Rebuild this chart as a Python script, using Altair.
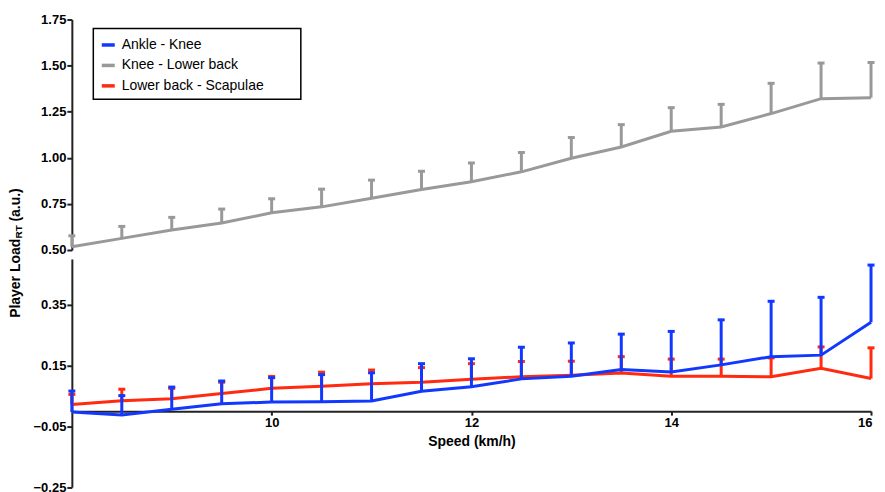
import altair as alt
import pandas as pd

speeds = [8, 8.5, 9, 9.5, 10, 10.5, 11, 11.5, 12, 12.5, 13, 13.5, 14, 14.5, 15, 15.5, 16]
series_names = ["Ankle - Knee", "Knee - Lower back", "Lower back - Scapulae"]
series_colors = ["#1238ff", "#999999", "#ff2a10"]

ankle_knee_mean = [-0.003, -0.013, 0.006, 0.024, 0.030, 0.031, 0.033, 0.065, 0.080,
                   0.106, 0.115, 0.137, 0.129, 0.152, 0.179, 0.184, 0.292]
ankle_knee_sd = [0.069, 0.064, 0.073, 0.075, 0.080, 0.089, 0.093, 0.091, 0.092,
                 0.104, 0.109, 0.116, 0.133, 0.148, 0.182, 0.190, 0.188]

knee_lowback_mean = [0.518, 0.563, 0.608, 0.646, 0.702, 0.734, 0.781, 0.828, 0.870,
                     0.924, 0.998, 1.059, 1.144, 1.167, 1.240, 1.321, 1.326]
knee_lowback_sd = [0.059, 0.065, 0.069, 0.076, 0.076, 0.096, 0.098, 0.099, 0.102,
                   0.105, 0.112, 0.121, 0.128, 0.123, 0.164, 0.193, 0.191]

lowback_scap_mean = [0.022, 0.034, 0.041, 0.058, 0.075, 0.082, 0.090, 0.095, 0.105,
                     0.113, 0.118, 0.125, 0.115, 0.115, 0.113, 0.141, 0.107]
lowback_scap_sd = [0.033, 0.038, 0.034, 0.037, 0.039, 0.046, 0.045, 0.048, 0.051,
                   0.050, 0.046, 0.054, 0.056, 0.056, 0.062, 0.070, 0.101]

top_ticks = [0.5, 0.75, 1.0, 1.25, 1.5, 1.75]
bottom_ticks = [-0.25, -0.05, 0.15, 0.35]
x_ticks = [10, 12, 14, 16]

FONT = "Liberation Sans"


def make_df(name, means, sds):
    return pd.DataFrame({
        "speed": speeds,
        "series": name,
        "mean": means,
        "upper": [m + s for m, s in zip(means, sds)],
    })


df_blue = make_df(series_names[0], ankle_knee_mean, ankle_knee_sd)
df_gray = make_df(series_names[1], knee_lowback_mean, knee_lowback_sd)
df_red = make_df(series_names[2], lowback_scap_mean, lowback_scap_sd)

color_scale = alt.Scale(domain=series_names, range=series_colors)
x_scale = alt.Scale(domain=[8, 16], nice=False, zero=False)
top_y_scale = alt.Scale(domain=[0.5, 1.75], nice=False, zero=False)
bot_y_scale = alt.Scale(domain=[-0.25, 0.5], nice=False, zero=False)

W = 801


def series_layers(df, yscale, yaxis, xaxis, legend):
    base = alt.Chart(df)
    x = alt.X("speed:Q", scale=x_scale, axis=xaxis)
    color = alt.Color("series:N", scale=color_scale, legend=legend)
    rule = base.mark_rule(strokeWidth=3).encode(
        x=x, y=alt.Y("mean:Q", scale=yscale, axis=yaxis), y2="upper:Q", color=color)
    cap = base.mark_tick(orient="horizontal", size=7, thickness=3, opacity=1).encode(
        x=x, y=alt.Y("upper:Q", scale=yscale, axis=yaxis), color=color)
    line = base.mark_line(strokeWidth=3).encode(
        x=x, y=alt.Y("mean:Q", scale=yscale, axis=yaxis), color=color)
    return [rule, cap, line]


top_axis = alt.Axis(values=top_ticks, format=".2f", title=None)
bot_axis = alt.Axis(values=bottom_ticks, format=".2f", title=None)

legend = alt.Legend(
    orient="none", legendX=28, legendY=17, title=None, padding=0,
    symbolType="stroke", symbolSize=169, symbolStrokeWidth=3.5,
    labelFontSize=14, labelFont=FONT, labelColor="black", labelOffset=5,
    rowPadding=4.5, labelLimit=400,
)

frame = alt.Chart(pd.DataFrame({"k": [0]})).mark_rect(
    fill=None, stroke="black", strokeWidth=1.5
).encode(x=alt.value(21.5), x2=alt.value(229.5), y=alt.value(9), y2=alt.value(80))

top = alt.layer(
    *series_layers(df_gray, top_y_scale, top_axis, None, legend), frame
).properties(width=W, height=231)

x_axis = alt.Axis(values=x_ticks, title="Speed (km/h)", offset=-76.25,
                  tickSize=4, labelPadding=1, titlePadding=5, format="d",
                  labelFlush=True, labelFlushOffset=1)

ttl1 = alt.Chart(pd.DataFrame({"t": ["Player Load"]})).mark_text(
    angle=270, align="left", baseline="middle", fontSize=14, fontWeight="bold",
    font=FONT, color="black"
).encode(text="t:N", x=alt.value(-56), y=alt.value(59))
ttl2 = alt.Chart(pd.DataFrame({"t": ["RT"]})).mark_text(
    angle=270, align="left", baseline="middle", fontSize=10, fontWeight="bold",
    font=FONT, color="black"
).encode(text="t:N", x=alt.value(-52.5), y=alt.value(-20.5))
ttl3 = alt.Chart(pd.DataFrame({"t": ["(a.u.)"]})).mark_text(
    angle=270, align="left", baseline="middle", fontSize=14, fontWeight="bold",
    font=FONT, color="black"
).encode(text="t:N", x=alt.value(-56), y=alt.value(-37.5))

bottom = alt.layer(
    *series_layers(df_red, bot_y_scale, bot_axis, x_axis, None),
    *series_layers(df_blue, bot_y_scale, bot_axis, x_axis, None),
    ttl1, ttl2, ttl3,
).properties(width=W, height=228.75)

chart = alt.vconcat(top, bottom, spacing=9, bounds="flush").resolve_scale(
    y="independent", color="independent"
).resolve_axis(y="independent").properties(
    padding={"left": 0, "top": 5, "right": 0, "bottom": 0}
).configure_view(stroke=None).configure_axis(
    grid=False, domainColor="#222222", domainWidth=2, tickColor="#222222",
    tickWidth=2, tickSize=5, labelColor="black", labelFont=FONT,
    labelFontSize=13, labelFontWeight="bold", labelPadding=1,
    titleFont=FONT, titleFontSize=14, titleFontWeight="bold", titleColor="black"
)

chart.save("out.html", embed_options={"renderer": "svg", "actions": False})
